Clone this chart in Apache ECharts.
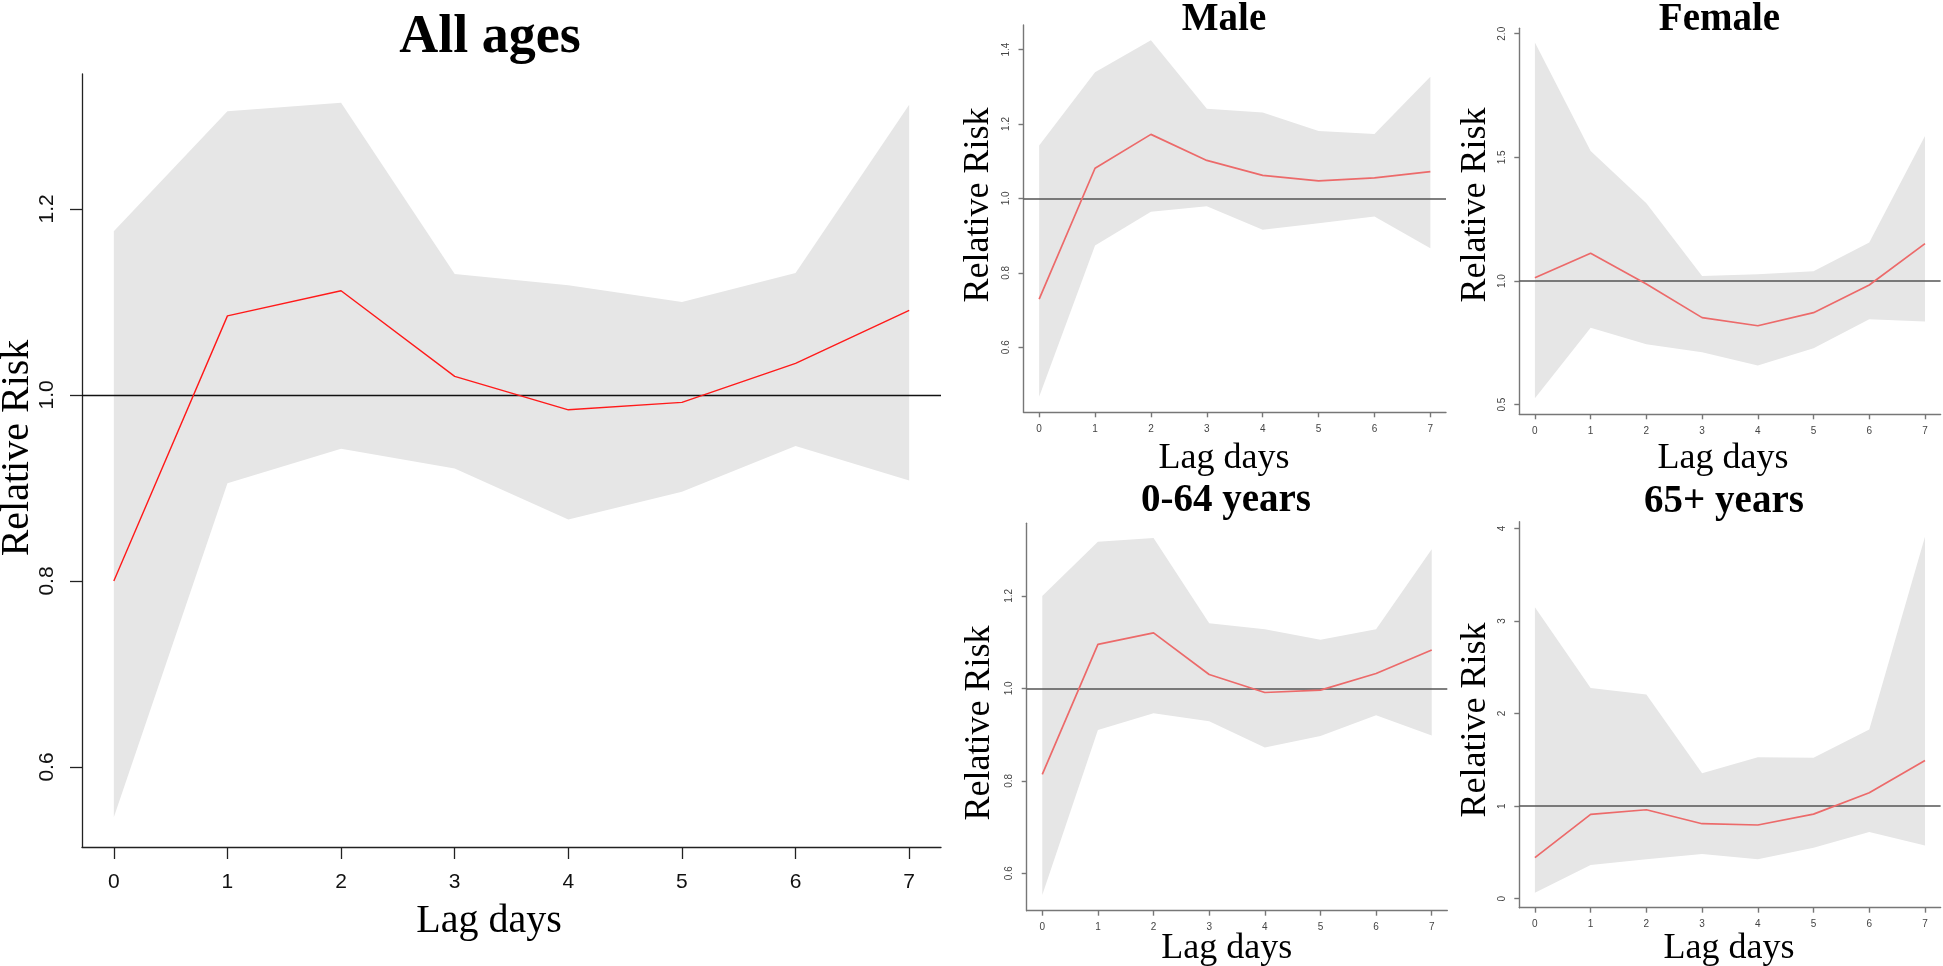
<!DOCTYPE html>
<html>
<head>
<meta charset="utf-8">
<script src="https://cdn.jsdelivr.net/npm/echarts@6/dist/echarts.min.js"></script>
<style>
html,body{margin:0;padding:0;background:#fff;}
#chart{width:1943px;height:966px;}
</style>
</head>
<body>
<div id="chart"></div>
<script>
// ---- data ----
const lags = [0, 1, 2, 3, 4, 5, 6, 7];
const lagTicks = [0, 1, 2, 3, 4, 5, 6, 7];

const allRR    = [0.800, 1.085, 1.112, 1.020, 0.984, 0.992, 1.034, 1.091];
const allUpper = [1.176, 1.305, 1.314, 1.130, 1.118, 1.100, 1.131, 1.312];
const allLower = [0.546, 0.905, 0.942, 0.921, 0.866, 0.896, 0.945, 0.908];
const allYTicks = [0.6, 0.8, 1.0, 1.2];

const maleRR    = [0.729, 1.081, 1.172, 1.102, 1.062, 1.047, 1.055, 1.072];
const maleUpper = [1.142, 1.339, 1.425, 1.241, 1.231, 1.181, 1.173, 1.327];
const maleLower = [0.467, 0.873, 0.964, 0.979, 0.916, 0.933, 0.951, 0.866];
const maleYTicks = [0.6, 0.8, 1.0, 1.2, 1.4];

const femaleRR    = [1.013, 1.112, 0.988, 0.852, 0.819, 0.872, 0.984, 1.151];
const femaleUpper = [1.965, 1.526, 1.314, 1.020, 1.027, 1.040, 1.156, 1.586];
const femaleLower = [0.526, 0.811, 0.744, 0.712, 0.658, 0.728, 0.845, 0.836];
const femaleYTicks = [0.5, 1.0, 1.5, 2.0];

const youngRR    = [0.814, 1.095, 1.120, 1.030, 0.991, 0.996, 1.032, 1.083];
const youngUpper = [1.200, 1.317, 1.325, 1.141, 1.128, 1.105, 1.128, 1.301];
const youngLower = [0.553, 0.910, 0.946, 0.929, 0.872, 0.897, 0.942, 0.898];
const youngYTicks = [0.6, 0.8, 1.0, 1.2];

const oldRR    = [0.443, 0.911, 0.961, 0.810, 0.796, 0.914, 1.145, 1.494];
const oldUpper = [3.147, 2.275, 2.207, 1.354, 1.527, 1.523, 1.829, 3.910];
const oldLower = [0.065, 0.364, 0.425, 0.482, 0.425, 0.551, 0.720, 0.576];
const oldYTicks = [0, 1, 2, 3, 4];

const titles = ['All ages', 'Male', 'Female', '0-64 years', '65+ years'];
const yTitle = 'Relative Risk';
const xTitle = 'Lag days';

// ---- layout / style ----
const SERIF = '"Liberation Serif","Times New Roman",serif';
const SANS = '"Liberation Sans",Arial,sans-serif';

const panels = [
  { rr: allRR, up: allUpper, lo: allLower, yt: allYTicks, dec: 1,
    grid: { left: 82, top: 74, width: 859, height: 773 }, ymin: 0.514, ymax: 1.345,
    big: true, title: [490, 33], ytl: [14, 448], xtl: [489, 918] },
  { rr: maleRR, up: maleUpper, lo: maleLower, yt: maleYTicks, dec: 1,
    grid: { left: 1023.5, top: 25, width: 422.5, height: 387.3 }, ymin: 0.425, ymax: 1.466,
    big: false, title: [1224, 16.5], ytl: [975, 205], xtl: [1224, 455] },
  { rr: femaleRR, up: femaleUpper, lo: femaleLower, yt: femaleYTicks, dec: 1,
    grid: { left: 1519.3, top: 28.3, width: 421.3, height: 386 }, ymin: 0.461, ymax: 2.022,
    big: false, title: [1719.5, 16.5], ytl: [1472.5, 205], xtl: [1723, 455] },
  { rr: youngRR, up: youngUpper, lo: youngLower, yt: youngYTicks, dec: 1,
    grid: { left: 1026.7, top: 523.3, width: 420.6, height: 387.4 }, ymin: 0.519, ymax: 1.357,
    big: false, title: [1226, 497], ytl: [976.5, 723], xtl: [1226.7, 945] },
  { rr: oldRR, up: oldUpper, lo: oldLower, yt: oldYTicks, dec: 0,
    grid: { left: 1519.3, top: 521.7, width: 421.3, height: 386 }, ymin: -0.097, ymax: 4.072,
    big: false, title: [1724, 498], ytl: [1472.5, 720], xtl: [1729, 945] }
];

const grids = [], xAxes = [], yAxes = [], series = [], graphics = [];

panels.forEach((p, idx) => {
  const big = p.big;
  const axisColor = big ? '#222' : '#777';
  const labelColor = big ? '#111' : '#444';
  const fs = big ? 21 : 10;
  const tfs = big ? 54 : 39;
  const afs = big ? 40 : 36;
  grids.push(Object.assign({ containLabel: false }, p.grid));
  xAxes.push({
    gridIndex: idx, type: 'value', min: -0.28, max: 7.28,
    axisLine: { show: true, onZero: false, lineStyle: { color: axisColor, width: big ? 1.3 : 1.4 } },
    axisTick: { show: true, customValues: lagTicks, length: big ? 12 : 5, lineStyle: { color: axisColor, width: big ? 1.3 : 1.4 } },
    axisLabel: { show: true, customValues: lagTicks, fontSize: fs, fontFamily: SANS, color: labelColor, margin: big ? 25 : 12 },
    splitLine: { show: false }
  });
  yAxes.push({
    gridIndex: idx, type: 'value', min: p.ymin, max: p.ymax,
    axisLine: { show: true, onZero: false, lineStyle: { color: axisColor, width: big ? 1.3 : 1.4 } },
    axisTick: { show: true, customValues: p.yt, length: big ? 12 : 5, lineStyle: { color: axisColor, width: big ? 1.3 : 1.4 } },
    axisLabel: { show: true, customValues: p.yt, rotate: 90, fontSize: fs, fontFamily: SANS, color: labelColor,
      margin: big ? 24 : 12, formatter: v => Number(v).toFixed(p.dec) },
    splitLine: { show: false }
  });
  const up = p.up, lo = p.lo;
  series.push({
    type: 'custom', xAxisIndex: idx, yAxisIndex: idx, silent: true, z: 1,
    data: lags.map((l, i) => [l, lo[i], up[i]]),
    encode: { x: 0, y: [1, 2] },
    renderItem: function (params, api) {
      if (params.dataIndex !== 0) return null;
      const pts = [];
      for (let i = 0; i < lags.length; i++) pts.push(api.coord([lags[i], up[i]]));
      for (let i = lags.length - 1; i >= 0; i--) pts.push(api.coord([lags[i], lo[i]]));
      return { type: 'polygon', shape: { points: pts }, style: { fill: '#e6e6e6' } };
    }
  });
  series.push({
    type: 'line', xAxisIndex: idx, yAxisIndex: idx, z: 4, silent: true,
    data: lags.map((l, i) => [l, p.rr[i]]),
    symbol: 'none',
    lineStyle: { color: big ? '#ff1a1a' : '#ec6a6a', width: big ? 1.4 : 1.7 },
    markLine: {
      silent: true, symbol: 'none', label: { show: false }, z: 3,
      lineStyle: { color: big ? '#111' : '#555', width: big ? 1.3 : 1.5, type: 'solid' },
      data: [{ yAxis: 1 }]
    }
  });
  graphics.push({
    type: 'text', x: p.title[0], y: p.title[1] + 0.09 * tfs, silent: true,
    style: { text: titles[idx], fontFamily: SERIF, fontWeight: 'bold', fontSize: tfs,
      fill: '#000', align: 'center', verticalAlign: 'middle' }
  });
  graphics.push({
    type: 'text', x: p.ytl[0] + 0.09 * afs, y: p.ytl[1], rotation: Math.PI / 2, silent: true,
    style: { text: yTitle, fontFamily: SERIF, fontSize: afs,
      fill: '#000', align: 'center', verticalAlign: 'middle' }
  });
  graphics.push({
    type: 'text', x: p.xtl[0], y: p.xtl[1] + 0.09 * afs, silent: true,
    style: { text: xTitle, fontFamily: SERIF, fontSize: afs,
      fill: '#000', align: 'center', verticalAlign: 'middle' }
  });
});

const chart = echarts.init(document.getElementById('chart'), null, { renderer: 'canvas' });
chart.setOption({
  animation: false,
  backgroundColor: '#ffffff',
  grid: grids,
  xAxis: xAxes,
  yAxis: yAxes,
  series: series,
  graphic: { elements: graphics }
});
</script>
</body>
</html>
